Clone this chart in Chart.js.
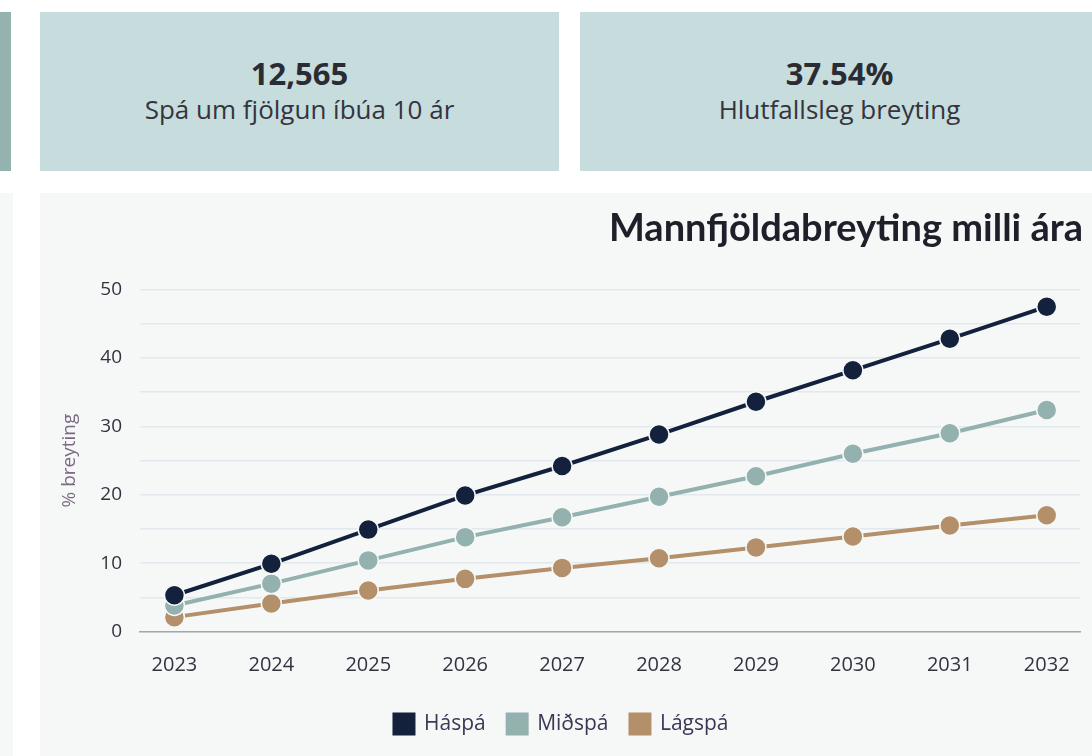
<!DOCTYPE html>
<html>
<head>
<meta charset="utf-8">
<script src="https://cdn.jsdelivr.net/npm/chart.js@4/dist/chart.umd.min.js"></script>
<style>
  html, body { margin: 0; padding: 0; background: #ffffff; }
  body { width: 1092px; height: 756px; overflow: hidden; position: relative; font-family: 'Open Sans', sans-serif; }
  .strip { position: absolute; left: 0; top: 12px; width: 11px; height: 159px; background: #94b3af; }
  .card { position: absolute; top: 12px; width: 519px; height: 159px; background: #c6dcdd; text-align: center; color: #2b2b33; }
  .card .num { margin-top: 42px; font-size: 31px; font-weight: 700; line-height: 38px; }
  .card .lbl { font-size: 26px; line-height: 34px; color: #34343f; }
  .side { position: absolute; left: 0; top: 193px; width: 13px; height: 563px; background: #f6f8f8; }
  .panel { position: absolute; left: 40px; top: 193px; width: 1052px; height: 563px; background: #f6f8f8; }
</style>
</head>
<body>
<div class="strip"></div>
<div class="card" style="left:40px"><div class="num">12,565</div><div class="lbl">Spá um fjölgun íbúa 10 ár</div></div>
<div class="card" style="left:580px"><div class="num">37.54%</div><div class="lbl">Hlutfallsleg breyting</div></div>
<div class="side"></div>
<div class="panel"><canvas id="chart" width="1052" height="563"></canvas></div>
<script>
const years = [2023, 2024, 2025, 2026, 2027, 2028, 2029, 2030, 2031, 2032];
const haspa = [5.3, 9.9, 14.9, 19.9, 24.2, 28.8, 33.6, 38.2, 42.8, 47.5];
const midspa = [3.8, 7.0, 10.4, 13.8, 16.7, 19.7, 22.7, 26.0, 29.0, 32.4];
const lagspa = [2.1, 4.1, 6.0, 7.7, 9.3, 10.7, 12.3, 13.9, 15.5, 17.0];

const toPoints = vals => vals.map((v, i) => ({ x: years[i], y: v }));

function series(label, vals, color) {
  return {
    label: label,
    data: toPoints(vals),
    borderColor: color,
    backgroundColor: color,
    borderWidth: 4,
    pointRadius: 10,
    pointBorderColor: '#f6f8f8',
    pointBorderWidth: 1.5,
    pointBackgroundColor: color,
    tension: 0
  };
}

const ctx = document.getElementById('chart').getContext('2d');
new Chart(ctx, {
  type: 'line',
  data: {
    datasets: [
      series('Háspá', haspa, '#13213c'),
      series('Miðspá', midspa, '#93b1ae'),
      series('Lágspá', lagspa, '#b38f6a')
    ]
  },
  options: {
    responsive: false,
    animation: false,
    layout: { padding: { left: 0, right: 9, top: 0, bottom: 11.5 } },
    plugins: {
      title: {
        display: true,
        text: 'Mannfjöldabreyting milli ára',
        align: 'end',
        color: '#1f1f2a',
        font: { family: 'Lato', size: 38, weight: 'bold' },
        padding: { top: 13, bottom: 38 }
      },
      legend: {
        position: 'bottom',
        labels: {
          boxWidth: 19,
          boxHeight: 19,
          color: '#3b3856',
          font: { family: 'Open Sans', size: 21 },
          padding: 22
        }
      },
      tooltip: { enabled: false }
    },
    scales: {
      x: {
        type: 'linear',
        min: 2022.645,
        max: 2032.345,
        afterBuildTicks: scale => { scale.ticks = years.map(v => ({ value: v })); },
        afterFit: scale => { scale.height = 60; },
        ticks: {
          color: '#333340',
          font: { family: 'Open Sans', size: 20 },
          padding: 22,
          callback: v => String(v)
        },
        grid: { display: false, drawTicks: false },
        border: { display: true, color: '#a6a6a6', width: 1.5 }
      },
      y: {
        min: 0,
        max: 50,
        afterFit: scale => { scale.width = 100; },
        ticks: {
          stepSize: 5,
          color: '#333340',
          font: { family: 'Open Sans', size: 19 },
          padding: 18,
          callback: v => (v % 10 === 0 ? v : '')
        },
        grid: { color: '#e3e8ee', lineWidth: 1.5, drawTicks: false },
        border: { display: false },
        title: {
          display: true,
          text: '% breyting',
          color: '#7b6a82',
          font: { family: 'Open Sans', size: 19 },
          padding: { top: 18.6, bottom: 0 }
        }
      }
    }
  }
});
</script>
</body>
</html>
